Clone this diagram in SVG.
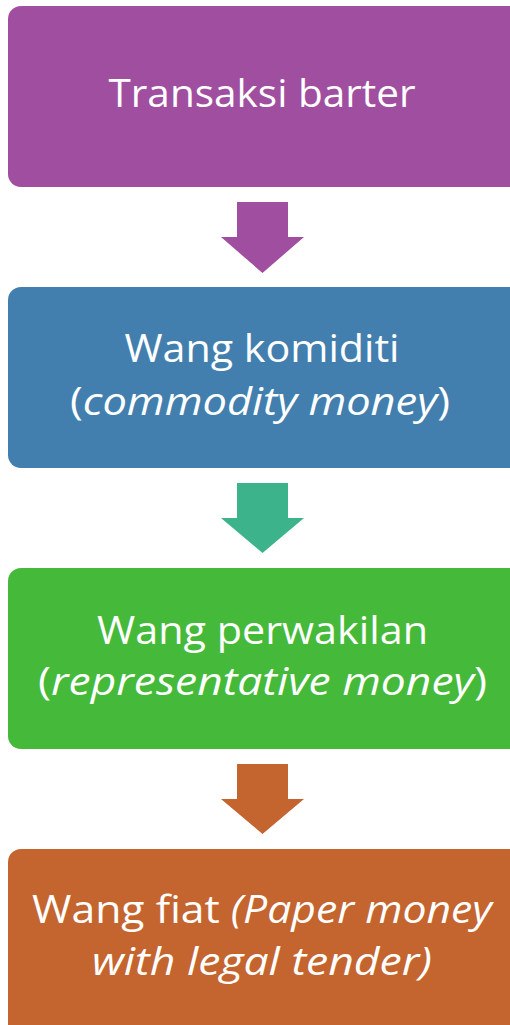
<svg xmlns="http://www.w3.org/2000/svg" width="510" height="1025" viewBox="0 0 510 1025">
<style>
.lbl{font-family:"Open Sans","Liberation Sans",sans-serif;font-size:39px;fill:#ffffff;text-anchor:middle}
.it{font-style:italic}
</style>
<rect width="510" height="1025" fill="#ffffff"/>
<g id="connectors">
<polygon points="237,202 288,202 288,237 304,237 262.5,273 221,237 237,237" fill="#A04FA0"/>
<polygon points="237,483 288,483 288,518 304,518 262.5,553 221,518 237,518" fill="#3DB38B"/>
<polygon points="237,764 288,764 288,799 304,799 262.5,834 221,799 237,799" fill="#C4652F"/>
</g>
<g id="node1">
<rect x="8" y="6" width="514" height="181" rx="13" fill="#A04FA0"/>
<text class="lbl" x="262" y="107" textLength="307" lengthAdjust="spacingAndGlyphs">Transaksi barter</text>
</g>
<g id="node2">
<rect x="8" y="287" width="514" height="181" rx="13" fill="#427FAF"/>
<text class="lbl" x="262" y="362" textLength="275" lengthAdjust="spacingAndGlyphs">Wang komiditi</text>
<text class="lbl" x="260" y="415" textLength="380" lengthAdjust="spacingAndGlyphs">(<tspan class="it">commodity money</tspan>)</text>
</g>
<g id="node3">
<rect x="8" y="568" width="514" height="181" rx="13" fill="#45BA3A"/>
<text class="lbl" x="262.5" y="644" textLength="331" lengthAdjust="spacingAndGlyphs">Wang perwakilan</text>
<text class="lbl" x="262.5" y="695" textLength="449" lengthAdjust="spacingAndGlyphs">(<tspan class="it">representative money</tspan>)</text>
</g>
<g id="node4">
<rect x="8" y="849" width="514" height="190" rx="13" fill="#C4652F"/>
<text class="lbl" x="262" y="923" textLength="460" lengthAdjust="spacingAndGlyphs">Wang fiat <tspan class="it">(Paper money</tspan></text>
<text class="lbl it" x="262" y="975" textLength="340" lengthAdjust="spacingAndGlyphs">with legal tender)</text>
</g>
</svg>
